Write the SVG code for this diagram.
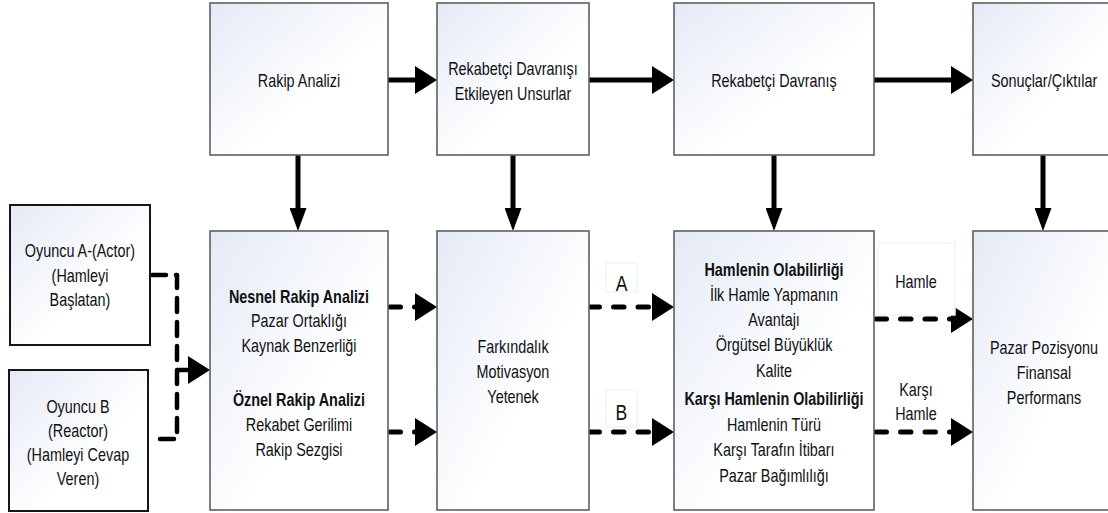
<svg xmlns="http://www.w3.org/2000/svg" width="1108" height="513" viewBox="0 0 1108 513">
<defs>
<linearGradient id="gr" x1="0" y1="0" x2="1" y2="1">
<stop offset="0" stop-color="#e4eaf6"/>
<stop offset="0.6" stop-color="#ffffff"/>
<stop offset="1" stop-color="#ffffff"/>
</linearGradient>
<marker id="ah" markerUnits="userSpaceOnUse" markerWidth="22" markerHeight="28" refX="0" refY="14" orient="auto" viewBox="0 0 22 28">
<path d="M0,0 L22,14 L0,28 Z" fill="#000"/>
</marker>
<marker id="av" markerUnits="userSpaceOnUse" markerWidth="23" markerHeight="17" refX="0" refY="8.5" orient="auto" viewBox="0 0 23 17">
<path d="M0,0 L23,8.5 L0,17 Z" fill="#000"/>
</marker>
</defs>
<style>
.box{fill:url(#gr);stroke:#5f5f5f;stroke-width:1.6}
.lbox{fill:url(#gr);stroke:#161616;stroke-width:2}
.tag{fill:#ffffff;stroke:#f0f3fa;stroke-width:1.5}
text{font-family:"Liberation Sans",Arial,sans-serif;font-size:18px;fill:#111;text-anchor:middle;transform-box:fill-box;transform-origin:center;transform:scaleX(0.8)}
.b{font-weight:bold}
.big{font-size:22px}
.solid{fill:none;stroke:#000;stroke-width:5}
.dash{fill:none;stroke:#000;stroke-width:5;stroke-dasharray:10.5 14;stroke-linecap:round}
.dashl{fill:none;stroke:#000;stroke-width:4.5;stroke-dasharray:14 10;stroke-linecap:round;stroke-linejoin:round}
</style>
<rect width="1108" height="513" fill="#ffffff"/>

<g id="connectors">
<line class="solid" x1="388" y1="80" x2="415" y2="80" marker-end="url(#ah)"/>
<line class="solid" x1="589" y1="80" x2="652" y2="80" marker-end="url(#ah)"/>
<line class="solid" x1="874" y1="80" x2="951" y2="80" marker-end="url(#ah)"/>
<line class="solid" x1="298" y1="155" x2="298" y2="208" marker-end="url(#av)"/>
<line class="solid" x1="513" y1="155" x2="513" y2="208" marker-end="url(#av)"/>
<line class="solid" x1="774" y1="155" x2="774" y2="208" marker-end="url(#av)"/>
<line class="solid" x1="1043" y1="155" x2="1043" y2="208" marker-end="url(#av)"/>
<path class="dashl" d="M152,275 L177,275 L177,439 L150,439"/>
<line x1="177" y1="370" x2="188" y2="370" stroke="#000" stroke-width="4.5" marker-end="url(#ah)"/>
<line class="dash" x1="390" y1="307" x2="415" y2="307" marker-end="url(#ah)"/>
<line class="dash" x1="390" y1="432" x2="415" y2="432" marker-end="url(#ah)"/>
<line class="dash" x1="589" y1="307" x2="652" y2="307" marker-end="url(#ah)"/>
<line class="dash" x1="589" y1="432" x2="652" y2="432" marker-end="url(#ah)"/>
<line class="dash" x1="876" y1="319" x2="951" y2="319" marker-end="url(#ah)"/>
<line class="dash" x1="876" y1="432" x2="951" y2="432" marker-end="url(#ah)"/>
</g>

<g id="rakip-analizi">
<rect class="box" x="210" y="3" width="178" height="152"/>
<text x="299" y="87">Rakip Analizi</text>
</g>
<g id="etkileyen-unsurlar">
<rect class="box" x="437" y="3" width="152" height="152"/>
<text x="513" y="75">Rekabetçi Davranışı</text>
<text x="513" y="100">Etkileyen Unsurlar</text>
</g>
<g id="rekabetci-davranis">
<rect class="box" x="674" y="3" width="200" height="152"/>
<text x="774" y="87">Rekabetçi Davranış</text>
</g>
<g id="sonuclar">
<rect class="box" x="973" y="3" width="142" height="152"/>
<text x="1044" y="87">Sonuçlar/Çıktılar</text>
</g>

<g id="oyuncu-a">
<rect class="lbox" x="10" y="205" width="140" height="140"/>
<text x="80" y="257">Oyuncu A-(Actor)</text>
<text x="80" y="282">(Hamleyi</text>
<text x="80" y="306">Başlatan)</text>
</g>
<g id="oyuncu-b">
<rect class="lbox" x="9" y="370" width="139" height="141"/>
<text x="78" y="413">Oyuncu B</text>
<text x="78" y="437">(Reactor)</text>
<text x="78" y="461">(Hamleyi Cevap</text>
<text x="78" y="485">Veren)</text>
</g>

<g id="rakip-analizi-detay">
<rect class="box" x="210" y="231" width="178" height="279"/>
<text class="b" x="299" y="303">Nesnel Rakip Analizi</text>
<text x="299" y="327">Pazar Ortaklığı</text>
<text x="299" y="352">Kaynak Benzerliği</text>
<text class="b" x="299" y="406">Öznel Rakip Analizi</text>
<text x="299" y="431">Rekabet Gerilimi</text>
<text x="299" y="456">Rakip Sezgisi</text>
</g>
<g id="farkindalik">
<rect class="box" x="437" y="231" width="152" height="279"/>
<text x="513" y="353">Farkındalık</text>
<text x="513" y="378">Motivasyon</text>
<text x="513" y="403">Yetenek</text>
</g>
<g id="hamle-olabilirlik">
<rect class="box" x="674" y="231" width="200" height="279"/>
<text class="b" x="774" y="276">Hamlenin Olabilirliği</text>
<text x="774" y="301">İlk Hamle Yapmanın</text>
<text x="774" y="326">Avantajı</text>
<text x="774" y="351">Örgütsel Büyüklük</text>
<text x="774" y="377">Kalite</text>
<text class="b" x="774" y="405">Karşı Hamlenin Olabilirliği</text>
<text x="774" y="431">Hamlenin Türü</text>
<text x="774" y="456">Karşı Tarafın İtibarı</text>
<text x="774" y="482">Pazar Bağımlılığı</text>
</g>
<g id="pazar-pozisyonu">
<rect class="box" x="973" y="231" width="142" height="279"/>
<text x="1044" y="354">Pazar Pozisyonu</text>
<text x="1044" y="379">Finansal</text>
<text x="1044" y="404">Performans</text>
</g>

<g id="label-a">
<rect class="tag" x="606" y="263" width="31" height="29"/>
<text class="big" x="621.5" y="291">A</text>
</g>
<g id="label-b">
<rect class="tag" x="606" y="390" width="31" height="37"/>
<text class="big" x="621.5" y="420">B</text>
</g>
<g id="label-hamle">
<rect class="tag" x="878" y="243" width="77" height="72"/>
<text x="916" y="288">Hamle</text>
</g>
<g id="label-karsi-hamle">
<text x="916" y="396">Karşı</text>
<text x="916" y="420">Hamle</text>
</g>
</svg>
